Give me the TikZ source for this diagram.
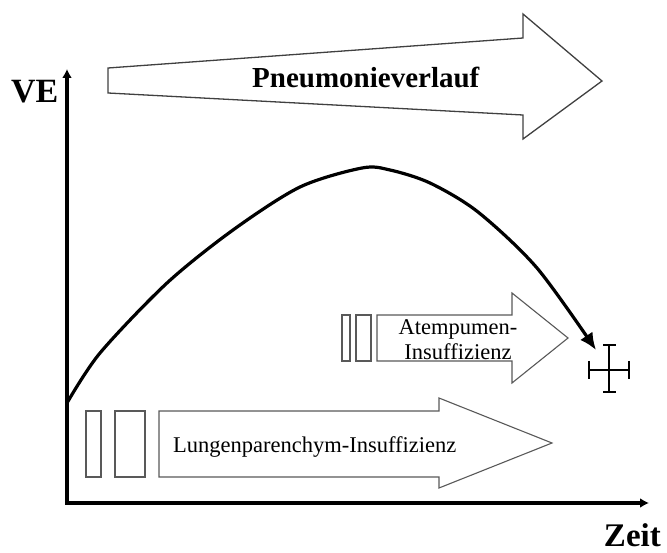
\documentclass[tikz,border=0pt]{standalone}
\usepackage{fontspec}
\setmainfont{Liberation Serif}
\usetikzlibrary{arrows.meta}
\tikzset{
  fatarrow/.style={draw=black!75, line width=1.3pt, fill=white, line join=miter},
  barbox/.style={draw=black!65, line width=1.1pt, fill=white},
  axis/.style={line width=3.2pt, -{Latex[length=9pt,width=10pt]}},
  curveline/.style={line width=3.2pt, -{Latex[length=17pt,width=15pt]}},
  bigbold/.style={font=\fontsize{34}{34}\selectfont\bfseries, inner sep=0pt},
  midtext/.style={font=\fontsize{22.5}{25}\selectfont, inner sep=0pt},
  crossline/.style={line width=2.8pt}
}
\begin{document}
\begin{tikzpicture}[x=1pt,y=-1pt]
\useasboundingbox (0,0) rectangle (667,553);
% big arrow
\draw[fatarrow] (108,68) -- (523,38) -- (523,14) -- (602,81) -- (523,139) -- (523,115) -- (108,93) -- cycle;
\node[font=\fontsize{29}{29}\selectfont\bfseries, inner sep=0pt, anchor=base west] (pv) at (252,88) {Pneumonieverlauf};
% axes
\coordinate (origin) at (67,503);
\coordinate (ytop) at (67,69);
\coordinate (xend) at (649,503);
\draw[axis, line cap=rect] (origin) -- (ytop);
\draw[axis] (origin) -- (xend);
\node[bigbold, anchor=base west] (ve) at (11,103) {VE};
\node[font=\fontsize{33}{33}\selectfont\bfseries, inner sep=0pt, anchor=base east] (zeit) at (661,546) {Zeit};
% lower arrow
\draw[barbox] (86,411) rectangle (101,477);
\draw[barbox] (115,411) rectangle (145,477);
\draw[fatarrow, draw=black!65, line width=1.1pt] (159,411) -- (439,411) -- (439,398) -- (552,443) -- (439,488) -- (439,477) -- (159,477) -- cycle;
\node[midtext, anchor=base west] (lung) at (173,452) {Lungenparenchym-Insuffizienz};
% middle arrow
\draw[barbox] (342,315) rectangle (350,361);
\draw[barbox] (356,315) rectangle (371,361);
\draw[fatarrow, draw=black!65, line width=1.1pt] (377,315) -- (512,315) -- (512,293) -- (568,338) -- (512,383) -- (512,361) -- (377,361) -- cycle;
\node[midtext, anchor=base] (atem1) at (458,335) {Atempumen-};
\node[midtext, anchor=base] (atem2) at (458,360) {Insuffizienz};
% cross
\node[minimum width=40pt, minimum height=47pt, inner sep=0pt] (cross) at (609,369) {};
\draw[crossline] (609,345) -- (609,392);
\draw[crossline] (589,370) -- (629,370);
\draw[crossline] (603,345) -- (616,345);
\draw[crossline] (603,392) -- (616,392);
\draw[crossline] (589,361) -- (589,379);
\draw[crossline] (629,361) -- (629,379);
% curve
\coordinate (cstart) at (67,403);
\coordinate (cend) at (596,350);
\draw[curveline, line join=round] plot[smooth, tension=0.5] coordinates {(cstart) (100,353) (167,283) (233,230) (300,187) (362,168) (390,170) (430,183) (478,212) (537,268) (cend)};
\end{tikzpicture}
\end{document}
